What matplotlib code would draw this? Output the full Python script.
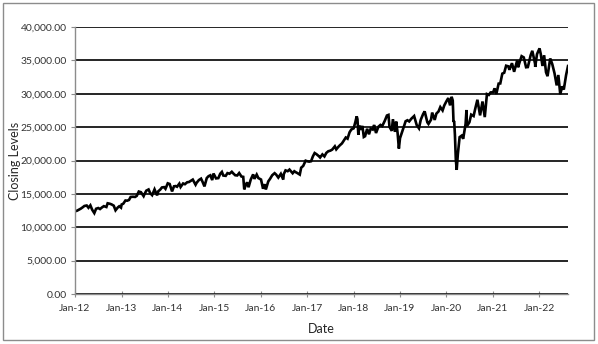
import pandas as pd
import matplotlib
matplotlib.use('Agg')
import matplotlib.pyplot as plt
import matplotlib.dates as mdates
from matplotlib.ticker import FuncFormatter, MultipleLocator
from matplotlib.patches import Rectangle

# closing levels (roughly twice a month plus the visible dips/peaks)
dates = [
    '2012-01-03', '2012-01-17', '2012-02-01', '2012-02-15', '2012-03-01', '2012-03-15', '2012-04-02', '2012-04-16',
    '2012-05-01', '2012-05-15', '2012-06-01', '2012-06-15', '2012-07-02', '2012-07-16', '2012-08-01', '2012-08-15',
    '2012-09-04', '2012-09-14', '2012-10-01', '2012-10-15', '2012-11-01', '2012-11-15', '2012-12-03', '2012-12-14',
    '2012-12-28',
    '2013-01-02', '2013-01-15', '2013-02-01', '2013-02-15', '2013-03-01', '2013-03-14', '2013-04-01', '2013-04-18',
    '2013-05-01', '2013-05-17', '2013-06-03', '2013-06-24', '2013-07-01', '2013-07-15', '2013-08-02', '2013-08-15',
    '2013-08-30', '2013-09-18', '2013-10-08', '2013-10-18', '2013-11-01', '2013-11-15', '2013-12-02', '2013-12-13',
    '2013-12-31',
    '2014-01-15', '2014-02-03', '2014-02-18', '2014-03-03', '2014-03-14', '2014-04-01', '2014-04-11', '2014-05-01',
    '2014-05-15', '2014-06-02', '2014-06-16', '2014-07-01', '2014-07-16', '2014-08-07', '2014-08-15', '2014-09-02',
    '2014-09-19', '2014-10-01', '2014-10-16', '2014-11-03', '2014-11-17', '2014-12-01', '2014-12-16', '2014-12-26',
    '2015-01-15', '2015-02-02', '2015-02-17', '2015-03-02', '2015-03-13', '2015-04-01', '2015-04-15', '2015-05-01',
    '2015-05-19', '2015-06-01', '2015-06-15', '2015-07-01', '2015-07-16', '2015-08-03', '2015-08-17', '2015-08-25',
    '2015-09-01', '2015-09-16', '2015-09-28', '2015-10-15', '2015-11-03', '2015-11-13', '2015-12-01', '2015-12-14',
    '2016-01-04', '2016-01-20', '2016-02-01', '2016-02-11', '2016-03-01', '2016-03-15', '2016-04-01', '2016-04-20',
    '2016-05-02', '2016-05-19', '2016-06-08', '2016-06-27', '2016-07-01', '2016-07-15', '2016-08-01', '2016-08-15',
    '2016-09-09', '2016-09-22', '2016-10-03', '2016-10-14', '2016-11-04', '2016-11-15', '2016-12-01', '2016-12-20',
    '2017-01-03', '2017-01-17', '2017-02-01', '2017-02-15', '2017-03-01', '2017-03-15', '2017-04-03', '2017-04-13',
    '2017-05-01', '2017-05-17', '2017-06-01', '2017-06-16', '2017-07-03', '2017-07-17', '2017-08-07', '2017-08-18',
    '2017-09-01', '2017-09-15', '2017-10-02', '2017-10-16', '2017-11-01', '2017-11-15', '2017-12-01', '2017-12-15',
    '2018-01-02', '2018-01-16', '2018-01-26', '2018-02-01', '2018-02-08', '2018-02-16', '2018-03-01', '2018-03-12',
    '2018-03-23', '2018-04-02', '2018-04-18', '2018-05-03', '2018-05-16', '2018-06-01', '2018-06-12', '2018-06-27',
    '2018-07-16', '2018-08-01', '2018-08-15', '2018-09-04', '2018-09-21', '2018-10-03', '2018-10-11', '2018-10-29',
    '2018-11-07', '2018-11-23', '2018-12-03', '2018-12-14', '2018-12-24',
    '2019-01-02', '2019-01-15', '2019-02-01', '2019-02-15', '2019-03-01', '2019-03-15', '2019-04-01', '2019-04-23',
    '2019-05-13', '2019-05-31', '2019-06-14', '2019-07-03', '2019-07-15', '2019-08-05', '2019-08-14', '2019-09-03',
    '2019-09-12', '2019-10-02', '2019-10-15', '2019-11-01', '2019-11-15', '2019-12-03', '2019-12-16',
    '2020-01-02', '2020-01-17', '2020-01-31', '2020-02-12', '2020-02-21', '2020-02-27', '2020-03-03', '2020-03-09',
    '2020-03-16', '2020-03-23', '2020-04-01', '2020-04-15', '2020-05-01', '2020-05-13', '2020-06-01', '2020-06-08',
    '2020-06-11', '2020-07-01', '2020-07-15', '2020-08-03', '2020-08-17', '2020-09-02', '2020-09-23', '2020-10-12',
    '2020-10-30', '2020-11-16', '2020-12-01', '2020-12-15',
    '2021-01-04', '2021-01-15', '2021-01-29', '2021-02-16', '2021-03-01', '2021-03-17', '2021-04-01', '2021-04-16',
    '2021-05-03', '2021-05-12', '2021-06-01', '2021-06-18', '2021-07-12', '2021-07-19', '2021-08-02', '2021-08-16',
    '2021-09-02', '2021-09-20', '2021-10-04', '2021-10-26', '2021-11-08', '2021-11-30', '2021-12-01', '2021-12-15',
    '2022-01-04', '2022-01-14', '2022-01-27', '2022-02-09', '2022-02-24', '2022-03-08', '2022-03-29', '2022-04-14',
    '2022-05-02', '2022-05-19', '2022-06-01', '2022-06-16', '2022-07-01', '2022-07-14', '2022-08-01', '2022-08-16',
]
closes = [
    12397, 12480, 12630, 12780, 12980, 13190, 13260, 12920,
    13280, 12630, 12120, 12770, 12880, 12730, 12980, 13160,
    13030, 13590, 13520, 13420, 13230, 12540, 12970, 13140,
    12940,
    13410, 13530, 14010, 13980, 14090, 14540, 14570, 14540,
    14700, 15350, 15250, 14660, 14970, 15480, 15660, 15110,
    14810, 15680, 14780, 15400, 15620, 15960, 16010, 15760,
    16580,
    16480, 15370, 16130, 16170, 16070, 16530, 16030, 16560,
    16450, 16740, 16780, 16960, 17140, 16370, 16660, 17070,
    17280, 16800, 16120, 17370, 17650, 17780, 17070, 18050,
    17320, 17360, 18020, 18290, 17750, 17700, 18110, 18020,
    18310, 18040, 17790, 17760, 18120, 17600, 17550, 15670,
    16060, 16740, 16000, 17140, 17920, 17250, 17890, 17370,
    17150, 15770, 16450, 15660, 16870, 17250, 17790, 18100,
    17890, 17440, 18000, 17140, 17950, 18520, 18400, 18640,
    18090, 18390, 18250, 18140, 17890, 18920, 19190, 19970,
    19880, 19830, 19890, 20610, 21120, 20950, 20650, 20450,
    20910, 20610, 21140, 21380, 21480, 21630, 22120, 21670,
    21990, 22270, 22560, 22960, 23440, 23270, 24230, 24650,
    24820, 25800, 26620, 26190, 23860, 25220, 24610, 25180,
    23530, 23640, 24750, 23930, 24770, 24640, 25320, 24120,
    25060, 25330, 25160, 25950, 26740, 26830, 25050, 24440,
    26190, 24290, 25830, 24100, 21790,
    23350, 24070, 25060, 25880, 26030, 25850, 26260, 26660,
    25320, 24820, 26090, 26970, 27360, 25720, 25480, 26120,
    27180, 26080, 27020, 27350, 28000, 27500, 28240,
    28870, 29350, 28260, 29550, 28990, 25770, 25920, 23850,
    20190, 18590, 20940, 23500, 23720, 23250, 25480, 27570,
    25130, 25730, 26870, 26660, 27840, 29100, 26760, 28840,
    26500, 29950, 29820, 30200,
    30220, 30810, 29980, 31520, 31540, 33010, 33150, 34200,
    34110, 33590, 34580, 33290, 34990, 33960, 34840, 35630,
    35440, 33970, 34000, 35760, 36430, 34480, 34020, 35930,
    36800, 35910, 34160, 35770, 33220, 32630, 35290, 34450,
    33060, 31250, 32810, 29930, 31100, 30630, 32800, 34150,
]

x = pd.to_datetime(dates)

plt.rcParams['font.family'] = ['Lato', 'DejaVu Sans']

fig = plt.figure(figsize=(5.98, 3.44), dpi=100)
ax = fig.add_axes([75 / 598, 1 - 294 / 344, (568 - 75) / 598, (294 - 27) / 344])

ax.plot(x, closes, color='black', linewidth=1.9, solid_joinstyle='miter')

ax.set_ylim(0, 40000)
ax.yaxis.set_major_locator(MultipleLocator(5000))
ax.yaxis.set_major_formatter(FuncFormatter(lambda v, p: '{:,.2f}'.format(v)))
ax.grid(axis='y', color='black', linewidth=1.2)
ax.set_axisbelow(True)

ax.set_xlim(pd.Timestamp('2012-01-01'), x[-1])
ax.xaxis.set_major_locator(mdates.YearLocator())
ax.xaxis.set_major_formatter(mdates.DateFormatter('%b-%y'))

for s in ['top', 'right']:
    ax.spines[s].set_visible(False)
for s in ['left', 'bottom']:
    ax.spines[s].set_color('#8c8c8c')
    ax.spines[s].set_linewidth(1.0)
ax.spines['bottom'].set_zorder(3)

ax.tick_params(axis='y', length=3, width=0.8, color='#8c8c8c', labelsize=7.5, labelcolor='#333333', pad=3)
ax.tick_params(axis='x', length=4, width=0.8, color='#8c8c8c', direction='inout', labelsize=7.5,
               labelcolor='#333333', pad=5)

ax.set_xlabel('Date', fontsize=9, color='#262626')
ax.set_ylabel('Closing Levels', fontsize=9, color='#262626')
ax.xaxis.set_label_coords(0.5, (294 - 323) / 267)
ax.yaxis.set_label_coords((21 - 75) / 493, 0.5)

fig.patches.append(Rectangle((3 / 598, 4 / 344), 591 / 598, 337 / 344, transform=fig.transFigure,
                             fill=False, edgecolor='#8c8c8c', linewidth=1.0))

fig.savefig('out.png', dpi=100)
